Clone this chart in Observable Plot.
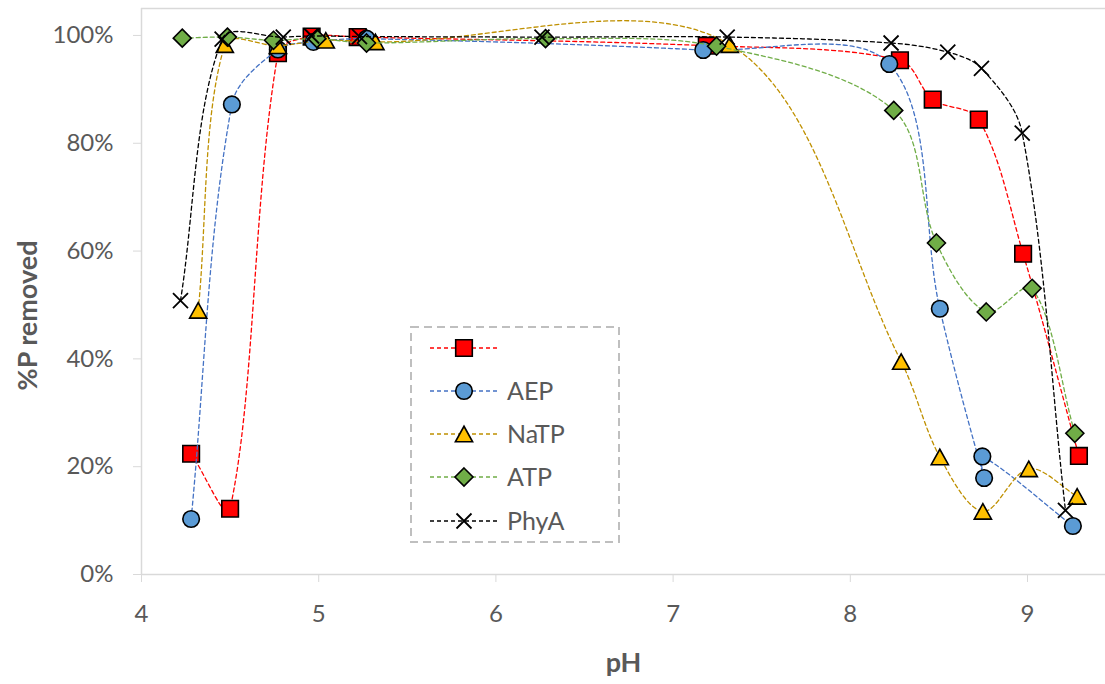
<!DOCTYPE html>
<html>
<head>
<meta charset="utf-8">
<script src="https://cdn.jsdelivr.net/npm/d3@7"></script>
<script src="https://cdn.jsdelivr.net/npm/@observablehq/plot@0.6"></script>
<style>
  html, body { margin: 0; padding: 0; background: #fff; }
  #wrap { position: relative; width: 1105px; height: 684px; font-family: Lato, "Open Sans", sans-serif; }
  #legend { position: absolute; left: 410px; top: 326px; }
</style>
</head>
<body>
<div id="wrap"><div id="chart"></div><div id="legend"></div></div>
<script>
// ---- data ----
const seriesNames = ["", "AEP", "NaTP", "ATP", "PhyA"];

const pH_S1 = [4.28, 4.50, 4.77, 4.96, 5.22, 7.19, 8.28, 8.465, 8.725, 8.975, 9.29];
const P_S1  = [0.224, 0.122, 0.967, 0.998, 0.997, 0.981, 0.954, 0.881, 0.844, 0.595, 0.220];

const pH_AEP = [4.28, 4.51, 4.77, 4.97, 5.27, 7.17, 8.22, 8.505, 8.755, 8.745, 9.256];
const P_AEP  = [0.103, 0.872, 0.974, 0.988, 0.994, 0.973, 0.947, 0.493, 0.179, 0.219, 0.090];

const pH_NaTP = [4.32, 4.47, 4.77, 5.04, 5.32, 7.32, 8.287, 8.505, 8.748, 9.007, 9.28];
const P_NaTP  = [0.490, 0.983, 0.981, 0.991, 0.988, 0.983, 0.395, 0.218, 0.117, 0.196, 0.145];

const pH_ATP = [4.23, 4.485, 4.745, 4.99, 5.27, 6.28, 7.245, 8.245, 8.486, 8.767, 9.026, 9.267];
const P_ATP  = [0.995, 0.997, 0.991, 0.994, 0.986, 0.994, 0.980, 0.861, 0.615, 0.487, 0.531, 0.262];

const pH_PhyA = [4.22, 4.455, 4.80, 4.96, 5.23, 6.26, 7.305, 8.23, 8.55, 8.74, 8.97, 9.214];
const P_PhyA  = [0.508, 0.993, 0.997, 0.999, 0.998, 0.997, 0.997, 0.986, 0.969, 0.939, 0.819, 0.119];

const xTicks = [4, 5, 6, 7, 8, 9];
const yTicks = [0, 0.2, 0.4, 0.6, 0.8, 1.0];

// ---- Excel-like smoothed line (Bezier, tangent split by neighbouring segment lengths) ----
function excelCurve(context) {
  let pts = [];
  const dist = (a, b) => Math.hypot(b[0] - a[0], b[1] - a[1]);
  const ctrl = (a, b, c, dir) => {
    const dab = dist(a, b), dbc = dist(b, c), s = dab + dbc;
    if (s === 0) return b;
    const w = (dir > 0 ? dbc : dab) / s / 3;
    return [b[0] + dir * (c[0] - a[0]) * w, b[1] + dir * (c[1] - a[1]) * w];
  };
  return {
    areaStart() {}, areaEnd() {},
    lineStart() { pts = []; },
    point(x, y) { pts.push([+x, +y]); },
    lineEnd() {
      const n = pts.length;
      if (!n) return;
      context.moveTo(pts[0][0], pts[0][1]);
      if (n === 2) { context.lineTo(pts[1][0], pts[1][1]); return; }
      for (let i = 0; i < n - 1; i++) {
        const p0 = pts[Math.max(0, i - 1)], p1 = pts[i], p2 = pts[i + 1], p3 = pts[Math.min(n - 1, i + 2)];
        const c1 = ctrl(p0, p1, p2, 1), c2 = ctrl(p1, p2, p3, -1);
        context.bezierCurveTo(c1[0], c1[1], c2[0], c2[1], p2[0], p2[1]);
      }
    }
  };
}

// ---- symbols ----
const rOf = size => Math.sqrt(size / Math.PI);
const symSquare = { draw(ctx, size) { const r = rOf(size); ctx.rect(-r, -r, 2 * r, 2 * r); } };
const symDiamond = { draw(ctx, size) { const r = rOf(size); ctx.moveTo(0, -r); ctx.lineTo(r, 0); ctx.lineTo(0, r); ctx.lineTo(-r, 0); ctx.closePath(); } };
const symTriangle = { draw(ctx, size) { const r = rOf(size); const h = r * 0.9; ctx.moveTo(0, -h); ctx.lineTo(r, h); ctx.lineTo(-r, h); ctx.closePath(); } };
const symTimes = { draw(ctx, size) { const r = rOf(size); ctx.moveTo(-r, -r); ctx.lineTo(r, r); ctx.moveTo(-r, r); ctx.lineTo(r, -r); } };
const symCircle = { draw(ctx, size) { const r = rOf(size); ctx.moveTo(r, 0); ctx.arc(0, 0, r, 0, 2 * Math.PI); } };

const styles = [
  { line: "#FF0000", fill: "#FF0000", sym: symSquare, r: 8.3 },
  { line: "#4472C4", fill: "#5B9BD5", sym: symCircle, r: 8.3 },
  { line: "#BF9000", fill: "#FFC000", sym: symTriangle, r: 8.6 },
  { line: "#70AD47", fill: "#70AD47", sym: symDiamond, r: 9 },
  { line: "#000000", fill: "none", sym: symTimes, r: 7.5 }
];
const xs = [pH_S1, pH_AEP, pH_NaTP, pH_ATP, pH_PhyA];
const ys = [P_S1, P_AEP, P_NaTP, P_ATP, P_PhyA];

const tables = xs.map((xa, i) => xa.map((x, j) => ({ x, y: ys[i][j], s: seriesNames[i] })));

const seriesMarks = tables.flatMap((t, i) => {
  const st = styles[i];
  return [
    Plot.line(t, { x: "x", y: "y", curve: excelCurve, stroke: st.line, strokeWidth: 1.3, strokeDasharray: "4,3" }),
    Plot.dot(t, { x: "x", y: "y", symbol: st.sym, r: st.r, fill: st.fill, stroke: "#000", strokeWidth: i === 4 ? 1.8 : 1.6 })
  ];
});

const chart = Plot.plot({
  width: 1105,
  height: 684,
  marginLeft: 141,
  marginRight: 0,
  marginTop: 8,
  marginBottom: 110,
  style: { fontFamily: "Lato, 'Open Sans', sans-serif", fontSize: "24px", color: "#595959", background: "#fff" },
  x: { domain: [4, 9.44] },
  y: { domain: [0, 1.05] },
  marks: [
    Plot.ruleY([1.05], { stroke: "#D9D9D9", strokeWidth: 1.5 }),
    Plot.ruleX([4], { stroke: "#D9D9D9", strokeWidth: 1.5 }),
    Plot.ruleY([0], { stroke: "#D9D9D9", strokeWidth: 1.5 }),
    Plot.axisX({ ticks: xTicks, tickSize: 8, tickPadding: 22, stroke: "#D9D9D9", fill: "#595959", label: null, tickFormat: d3.format("d") }),
    Plot.axisY({ ticks: yTicks, tickSize: 8, tickPadding: 20, stroke: "#D9D9D9", fill: "#595959", label: null, tickFormat: d3.format(".0%") }),
    Plot.text(["pH"], { frameAnchor: "bottom", dy: 97, text: d => d, textAnchor: "middle", fontWeight: "bold", fontSize: 27, fill: "#595959" }),
    Plot.text(["%P removed"], { frameAnchor: "left", dx: -113, dy: 24, rotate: -90, text: d => d, textAnchor: "middle", fontWeight: "bold", fontSize: 27, fill: "#595959" }),
    ...seriesMarks
  ]
});
document.getElementById("chart").appendChild(chart);

// ---- legend ----
const lg = d3.select("#legend").append("svg").attr("width", 212).attr("height", 220);
lg.append("rect").attr("x", 1).attr("y", 1).attr("width", 208).attr("height", 215)
  .attr("fill", "#fff").attr("stroke", "#BFBFBF").attr("stroke-width", 2).attr("stroke-dasharray", "8,5");
const rowY = [22, 65, 108, 151, 195];
seriesNames.forEach((name, i) => {
  const st = styles[i];
  const g = lg.append("g").attr("transform", `translate(0,${rowY[i]})`);
  g.append("line").attr("x1", 20).attr("x2", 88).attr("y1", 0).attr("y2", 0)
    .attr("stroke", st.line).attr("stroke-width", 1.3).attr("stroke-dasharray", "4,3");
  g.append("path").attr("transform", "translate(54,0)")
    .attr("d", d3.symbol(st.sym, st.r * st.r * Math.PI)())
    .attr("fill", st.fill).attr("stroke", "#000").attr("stroke-width", i === 4 ? 1.8 : 1.6);
  g.append("text").attr("x", 97).attr("y", 0).attr("dy", "0.35em")
    .attr("fill", "#595959").attr("font-size", 25).attr("font-family", "Lato, 'Open Sans', sans-serif").text(name);
});
</script>
</body>
</html>
